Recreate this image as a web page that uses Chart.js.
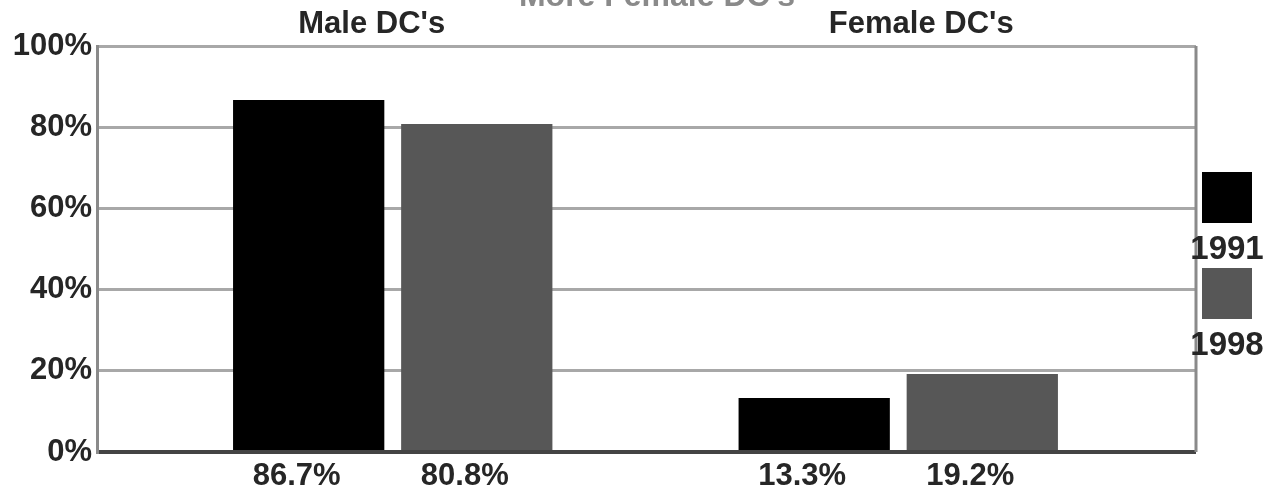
<!DOCTYPE html>
<html>
<head>
<meta charset="utf-8">
<script src="https://cdn.jsdelivr.net/npm/chart.js@4/dist/chart.umd.min.js"></script>
<style>
  body { margin: 0; background: #fff; }
  #wrap { width: 1281px; height: 497px; position: relative; }
</style>
</head>
<body>
<div id="wrap"><canvas id="chart"></canvas></div>
<script>
const chartTitle = "More Female DC's";
const categories = ["Male DC's", "Female DC's"];
const years = ['1991', '1998'];
const values1991 = [86.7, 13.3];
const values1998 = [80.8, 19.2];
const yTicks = [0, 20, 40, 60, 80, 100];
const colors = ['#000000', '#575757'];

const FONT = '"Liberation Sans", Arial, sans-serif';
const TEXT = '#262626';

// value labels under each bar, legend at right, frame and clipped title
const extras = {
  id: 'extras',
  afterDraw(chart) {
    const ctx = chart.ctx;
    const area = chart.chartArea;
    ctx.save();

    // right border of the frame
    ctx.strokeStyle = '#8a8a8a';
    ctx.lineWidth = 3;
    ctx.beginPath();
    ctx.moveTo(area.right, area.top);
    ctx.lineTo(area.right, area.bottom);
    ctx.stroke();

    // values below bars
    ctx.fillStyle = TEXT;
    ctx.font = 'bold 31px ' + FONT;
    ctx.textAlign = 'center';
    ctx.textBaseline = 'middle';
    chart.data.datasets.forEach((ds, i) => {
      chart.getDatasetMeta(i).data.forEach((bar, j) => {
        ctx.fillText(ds.data[j].y.toFixed(1) + '%', bar.x - 12, area.bottom + 24);
      });
    });

    // legend
    const cx = area.right + 31;
    let y = 172;
    chart.data.datasets.forEach(ds => {
      ctx.fillStyle = ds.backgroundColor;
      ctx.fillRect(cx - 25, y, 50, 51);
      ctx.fillStyle = TEXT;
      ctx.font = 'bold 33px ' + FONT;
      ctx.fillText(ds.label, cx, y + 78);
      y += 96;
    });

    // title, mostly cut off at top
    ctx.fillStyle = '#8a8a8a';
    ctx.font = 'bold 32px ' + FONT;
    ctx.textBaseline = 'alphabetic';
    ctx.fillText(chartTitle, 657, 6);
    ctx.restore();
  }
};

new Chart(document.getElementById('chart'), {
  type: 'bar',
  data: {
    datasets: years.map((yr, i) => ({
      label: yr,
      data: (i === 0 ? values1991 : values1998).map((v, j) => ({ x: j, y: v })),
      backgroundColor: colors[i],
      borderWidth: 0,
      categoryPercentage: 0.665,
      barPercentage: 0.9
    }))
  },
  options: {
    responsive: true,
    maintainAspectRatio: false,
    animation: false,
    layout: { padding: { top: 0, right: 85, bottom: 45, left: 0 } },
    plugins: { legend: { display: false }, tooltip: { enabled: false } },
    scales: {
      x: {
        type: 'linear',
        display: false,
        offset: false,
        min: -0.585,
        max: 1.589,
        afterBuildTicks: s => { s.ticks = categories.map((c, i) => ({ value: i })); }
      },
      xTop: {
        type: 'category',
        axis: 'x',
        position: 'top',
        labels: categories,
        offset: true,
        grid: { display: false, drawTicks: false },
        border: { display: false },
        ticks: { color: TEXT, padding: 3, font: { family: FONT, size: 31, weight: 'bold' } },
        afterFit: s => { s.height = 46; }
      },
      y: {
        min: 0,
        max: 100,
        afterBuildTicks: s => { s.ticks = yTicks.map(v => ({ value: v })); },
        ticks: {
          color: TEXT,
          padding: 5,
          font: { family: FONT, size: 31, weight: 'bold' },
          callback: v => v + '%'
        },
        grid: {
          drawTicks: false,
          lineWidth: c => (c.tick && c.tick.value === 0 ? 4 : 3),
          color: c => (c.tick && c.tick.value === 0 ? '#444444' : '#a8a8a8')
        },
        border: { color: '#8a8a8a', width: 3 },
        afterFit: s => { s.width = 97; }
      }
    }
  },
  plugins: [extras]
});
</script>
</body>
</html>
